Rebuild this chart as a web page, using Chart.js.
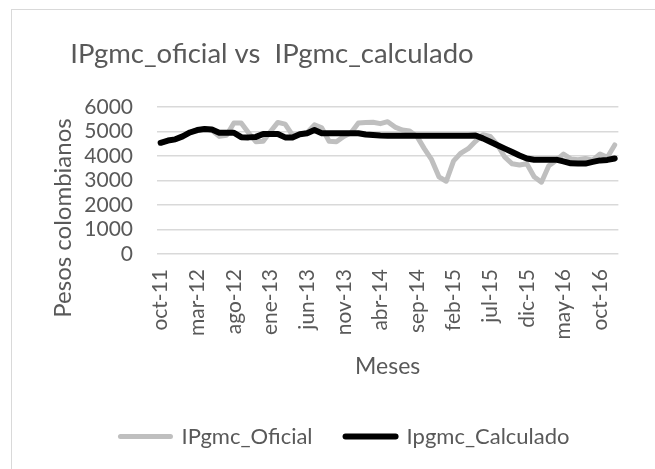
<!DOCTYPE html>
<html>
<head>
<meta charset="utf-8">
<script src="https://cdn.jsdelivr.net/npm/chart.js"></script>
<style>
  html, body { margin: 0; padding: 0; background: #fff; }
</style>
</head>
<body>
<canvas id="myChart" width="655" height="469"></canvas>
<script>
// setup
const months = [
  "oct-11", "nov-11", "dic-11",
  "ene-12", "feb-12", "mar-12", "abr-12", "may-12", "jun-12", "jul-12", "ago-12", "sep-12", "oct-12", "nov-12", "dic-12",
  "ene-13", "feb-13", "mar-13", "abr-13", "may-13", "jun-13", "jul-13", "ago-13", "sep-13", "oct-13", "nov-13", "dic-13",
  "ene-14", "feb-14", "mar-14", "abr-14", "may-14", "jun-14", "jul-14", "ago-14", "sep-14", "oct-14", "nov-14", "dic-14",
  "ene-15", "feb-15", "mar-15", "abr-15", "may-15", "jun-15", "jul-15", "ago-15", "sep-15", "oct-15", "nov-15", "dic-15",
  "ene-16", "feb-16", "mar-16", "abr-16", "may-16", "jun-16", "jul-16", "ago-16", "sep-16", "oct-16", "nov-16", "dic-16",
];

const oficial = [
  4540, 4630, 4680,
  4800, 4960, 5060, 5100, 5050, 4800, 4850, 5350, 5350, 4950, 4580, 4600,
  5000, 5370, 5300, 4850, 4880, 4950, 5270, 5150, 4600, 4580, 4800, 4950,
  5350, 5370, 5380, 5320, 5400, 5180, 5060, 5020, 4800, 4300, 3850, 3150,
  2970, 3800, 4120, 4300, 4600, 4870, 4800, 4450, 3950, 3680, 3630, 3680,
  3150, 2930, 3600, 3820, 4080, 3880, 3850, 3900, 3830, 4080, 3950, 4450,
];

const calculado = [
  4540, 4630, 4680,
  4800, 4960, 5060, 5100, 5080, 4950, 4950, 4950, 4770, 4760, 4780, 4900,
  4900, 4900, 4760, 4760, 4890, 4930, 5060, 4930, 4930, 4930, 4930, 4930,
  4930, 4880, 4860, 4840, 4830, 4830, 4830, 4830, 4830, 4830, 4830, 4830,
  4830, 4830, 4830, 4830, 4840, 4720, 4580, 4440, 4300, 4160, 4020, 3900,
  3850, 3850, 3850, 3850, 3780, 3700, 3690, 3690, 3760, 3820, 3840, 3900,
];

const yTicks = [0, 1000, 2000, 3000, 4000, 5000, 6000];
const labelEvery = 5;

const titleText = "IPgmc_oficial vs  IPgmc_calculado";
const yTitle = "Pesos colombianos";
const xTitle = "Meses";

const textColor = "#595959";
const gridColor = "#d9d9d9";

// frame and the two free-standing titles
const extras = {
  id: "extras",
  beforeDraw(chart) {
    const ctx = chart.ctx;
    ctx.save();
    ctx.fillStyle = "#fff";
    ctx.fillRect(0, 0, chart.width, chart.height);
    ctx.strokeStyle = gridColor;
    ctx.lineWidth = 1;
    ctx.strokeRect(11.5, 9.5, 700, 500);
    ctx.restore();
  },
  afterDraw(chart) {
    const ctx = chart.ctx;
    ctx.save();
    ctx.fillStyle = textColor;
    ctx.font = "27.5px Lato";
    ctx.textAlign = "center";
    ctx.textBaseline = "alphabetic";
    ctx.fillText(titleText, 272, 63);
    ctx.translate(63, 218);
    ctx.rotate(-Math.PI / 2);
    ctx.font = "24px Lato";
    ctx.textBaseline = "middle";
    ctx.fillText(yTitle, 0, 0);
    ctx.restore();
  },
};

const data = {
  labels: months,
  datasets: [
    {
      label: "IPgmc_Oficial",
      data: oficial,
      borderColor: "#bfbfbf",
      backgroundColor: "#bfbfbf",
      borderWidth: 5,
      order: 2,
    },
    {
      label: "Ipgmc_Calculado",
      data: calculado,
      borderColor: "#000000",
      backgroundColor: "#000000",
      borderWidth: 6,
      order: 1,
    },
  ],
};

// config
const config = {
  type: "line",
  data,
  plugins: [extras],
  options: {
    responsive: false,
    animation: false,
    layout: {
      padding: { left: 48, right: 13, top: 107, bottom: 11.5 },
    },
    elements: {
      point: { radius: 0 },
      line: { tension: 0, borderJoinStyle: "round", borderCapStyle: "round" },
    },
    plugins: {
      title: { display: false },
      tooltip: { enabled: false },
      legend: {
        position: "bottom",
        labels: {
          font: { family: "Lato", size: 22 },
          color: textColor,
          usePointStyle: true,
          pointStyle: "line",
          pointStyleWidth: 50,
          padding: 33,
          sort: (a, b) => a.datasetIndex - b.datasetIndex,
          generateLabels: (chart) =>
            chart.data.datasets.map((ds, i) => ({
              text: ds.label,
              fillStyle: ds.borderColor,
              strokeStyle: ds.borderColor,
              lineWidth: ds.borderWidth,
              lineCap: "round",
              pointStyle: "line",
              fontColor: textColor,
              hidden: false,
              datasetIndex: i,
            })),
        },
      },
    },
    scales: {
      x: {
        offset: true,
        grid: { display: false, drawTicks: false },
        border: { display: false },
        ticks: {
          autoSkip: false,
          minRotation: 90,
          maxRotation: 90,
          padding: 15,
          color: textColor,
          font: { family: "Lato", size: 21 },
          callback: (value, index) => (index % labelEvery === 0 ? months[index] : ""),
        },
        title: {
          display: true,
          text: xTitle,
          color: textColor,
          font: { family: "Lato", size: 23 },
          padding: { top: 0, bottom: 12 },
        },
        afterFit: (scale) => {
          scale.height = 138.5;
        },
      },
      y: {
        min: 0,
        max: 6000,
        afterBuildTicks: (scale) => {
          scale.ticks = yTicks.map((v) => ({ value: v }));
        },
        grid: { color: gridColor, lineWidth: 1.5, drawTicks: false },
        border: { display: false },
        ticks: {
          autoSkip: false,
          padding: 24,
          color: textColor,
          font: { family: "Lato", size: 21 },
          callback: (value) => String(value),
        },
        afterFit: (scale) => {
          scale.width = 109;
        },
      },
    },
  },
};

// render init block
const myChart = new Chart(document.getElementById("myChart"), config);
</script>
</body>
</html>
